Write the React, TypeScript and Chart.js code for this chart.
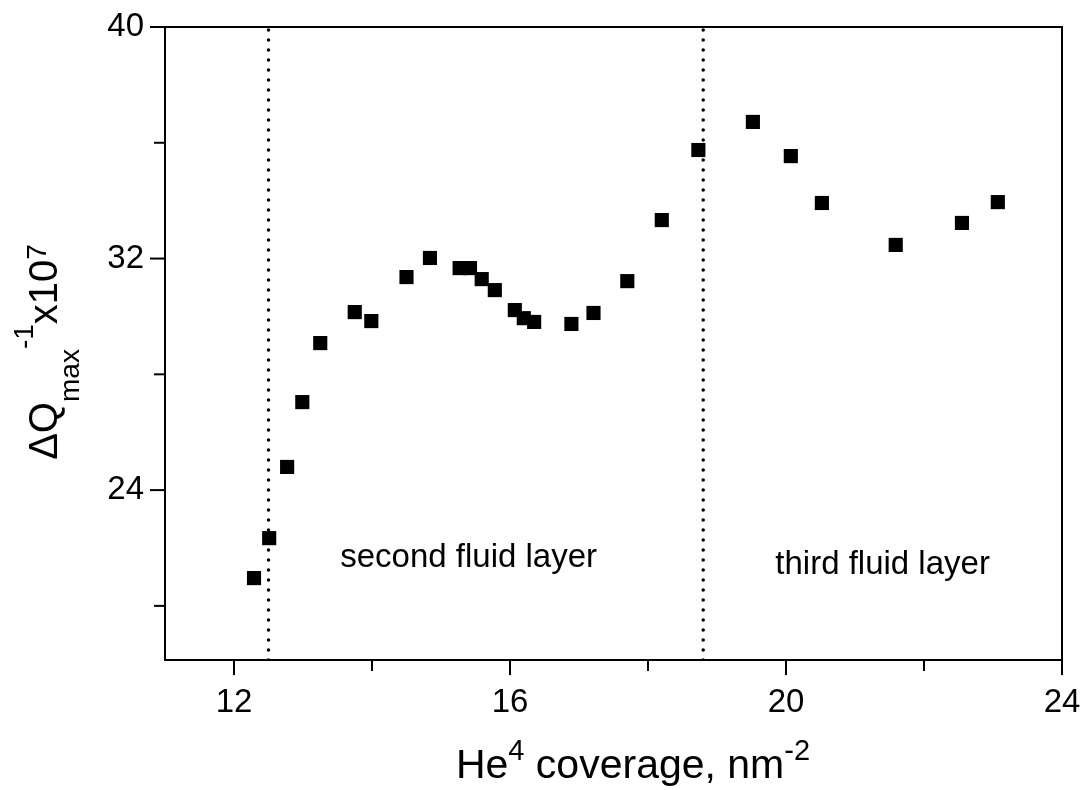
import React, { useEffect, useRef } from "react";
import { Chart, registerables } from "chart.js";

Chart.register(...registerables);

// Data
const coverage = [
  12.29, 12.51, 12.77, 12.99, 13.25, 13.75, 13.99, 14.5, 14.84, 15.27, 15.42,
  15.59, 15.78, 16.07, 16.2, 16.35, 16.89, 17.21, 17.7, 18.2, 18.73, 19.52,
  20.07, 20.52, 21.59, 22.55, 23.07,
];
const dqInverse = [
  20.96, 22.34, 24.8, 27.04, 29.08, 30.15, 29.84, 31.36, 32.02, 31.67, 31.67,
  31.29, 30.91, 30.22, 29.94, 29.81, 29.74, 30.12, 31.22, 33.33, 35.75, 36.72,
  35.54, 33.92, 32.47, 33.23, 33.95,
];
const layerBoundaries = [12.5, 18.8];
const xTickValues = [12, 14, 16, 18, 20, 22, 24];
const xMajorTicks = [12, 16, 20, 24];
const yTickValues = [20, 24, 28, 32, 36, 40];
const yMajorTicks = [24, 32, 40];
const xRange = [11, 24];
const yRange = [18.13, 40];
const regionLabels = ["second fluid layer", "third fluid layer"];
const regionLabelX = [15.4, 21.4];
const regionLabelY = [21.34, 21.1];

const FONT = "'Liberation Sans', Arial, Helvetica, sans-serif";

const framePlugin = {
  id: "frameAndTexts",
  afterDraw(chart: any) {
    const ctx = chart.ctx;
    const { left, right, top, bottom } = chart.chartArea;
    const xs = chart.scales.x;
    const ys = chart.scales.y;
    ctx.save();
    ctx.strokeStyle = "#000";
    ctx.lineWidth = 2;
    ctx.strokeRect(left, top, right - left, bottom - top);
    // tick marks
    xTickValues.forEach((v) => {
      const px = xs.getPixelForValue(v);
      const len = xMajorTicks.includes(v) ? 15 : 11;
      ctx.beginPath();
      ctx.moveTo(px, bottom);
      ctx.lineTo(px, bottom + len);
      ctx.stroke();
    });
    yTickValues.forEach((v) => {
      const py = ys.getPixelForValue(v);
      const len = yMajorTicks.includes(v) ? 15 : 11;
      ctx.beginPath();
      ctx.moveTo(left, py);
      ctx.lineTo(left - len, py);
      ctx.stroke();
    });
    // region labels
    ctx.fillStyle = "#000";
    ctx.font = `33px ${FONT}`;
    ctx.textAlign = "center";
    ctx.textBaseline = "alphabetic";
    regionLabels.forEach((t, i) => {
      ctx.fillText(t, xs.getPixelForValue(regionLabelX[i]), ys.getPixelForValue(regionLabelY[i]));
    });

    // x title: He^4 coverage, nm^-2
    const big = `41px ${FONT}`;
    const small = `29px ${FONT}`;
    const xParts: [string, string, number][] = [
      ["He", big, 0],
      ["4", small, -18],
      [" coverage, nm", big, 0],
      ["-2", small, -18],
    ];
    ctx.textAlign = "left";
    let total = 0;
    xParts.forEach(([t, f]) => {
      ctx.font = f;
      total += ctx.measureText(t).width;
    });
    let cx = 633 - total / 2;
    const xBase = 778;
    xParts.forEach(([t, f, dy]) => {
      ctx.font = f;
      ctx.fillText(t, cx, xBase + dy);
      cx += ctx.measureText(t).width;
    });

    // y title: ΔQ_max^-1 x10^7 (rotated)
    const yParts: [string, string, number][] = [
      ["\u0394Q", `40px ${FONT}`, 0],
      ["max", `28px ${FONT}`, 22],
      ["-1", `28px ${FONT}`, -24],
      ["x10", `40px ${FONT}`, 0],
      ["7", `28px ${FONT}`, -11],
    ];
    let ytotal = 0;
    yParts.forEach(([t, f]) => {
      ctx.font = f;
      ytotal += ctx.measureText(t).width;
    });
    ctx.translate(57, 352);
    ctx.rotate(-Math.PI / 2);
    let ty = -ytotal / 2;
    yParts.forEach(([t, f, dy]) => {
      ctx.font = f;
      ctx.fillText(t, ty, dy);
      ty += ctx.measureText(t).width;
    });
    ctx.restore();
  },
};

export default function App() {
  const ref = useRef<HTMLCanvasElement>(null);
  useEffect(() => {
    document.body.style.margin = "0";
    const points = coverage.map((x, i) => ({ x, y: dqInverse[i] }));
    const boundaryDatasets = layerBoundaries.map((b) => ({
      type: "line" as const,
      data: [
        { x: b, y: yRange[0] },
        { x: b, y: yRange[1] },
      ],
      borderColor: "#000",
      borderWidth: 3.5,
      borderDash: [0, 10],
      borderCapStyle: "round" as const,
      pointRadius: 0,
      fill: false,
    }));
    const chart = new Chart(ref.current!, {
      type: "scatter",
      data: {
        datasets: [
          ...boundaryDatasets,
          {
            type: "scatter",
            data: points,
            pointStyle: "rect",
            pointRadius: 10,
            backgroundColor: "#000",
            borderColor: "#000",
            borderWidth: 0,
          },
        ] as any,
      },
      options: {
        responsive: false,
        animation: false,
        devicePixelRatio: 1,
        layout: { padding: { top: 27, right: 19, left: 0, bottom: 0 } },
        plugins: { legend: { display: false }, tooltip: { enabled: false } },
        scales: {
          x: {
            type: "linear",
            min: xRange[0],
            max: xRange[1],
            grid: { display: false },
            border: { display: false },
            afterBuildTicks: (s: any) => {
              s.ticks = xTickValues.map((v) => ({ value: v }));
            },
            afterFit: (s: any) => {
              s.height = 130;
              s.paddingLeft = 0;
              s.paddingRight = 0;
            },
            ticks: {
              autoSkip: false,
              maxRotation: 0,
              padding: 15,
              color: "#000",
              font: { family: FONT, size: 33 },
              callback: (v: any) => (xMajorTicks.includes(v) ? String(v) : ""),
            },
          },
          y: {
            type: "linear",
            min: yRange[0],
            max: yRange[1],
            grid: { display: false },
            border: { display: false },
            afterBuildTicks: (s: any) => {
              s.ticks = yTickValues.map((v) => ({ value: v }));
            },
            afterFit: (s: any) => {
              s.width = 165;
              s.paddingTop = 0;
              s.paddingBottom = 0;
            },
            ticks: {
              autoSkip: false,
              padding: 13,
              color: "#000",
              font: { family: FONT, size: 33 },
              callback: (v: any) => (yMajorTicks.includes(v) ? String(v) : ""),
            },
          },
        },
      },
      plugins: [framePlugin],
    });
    return () => chart.destroy();
  }, []);
  return (
    <canvas
      ref={ref}
      width={1081}
      height={790}
      style={{ display: "block", width: 1081, height: 790 }}
    />
  );
}
